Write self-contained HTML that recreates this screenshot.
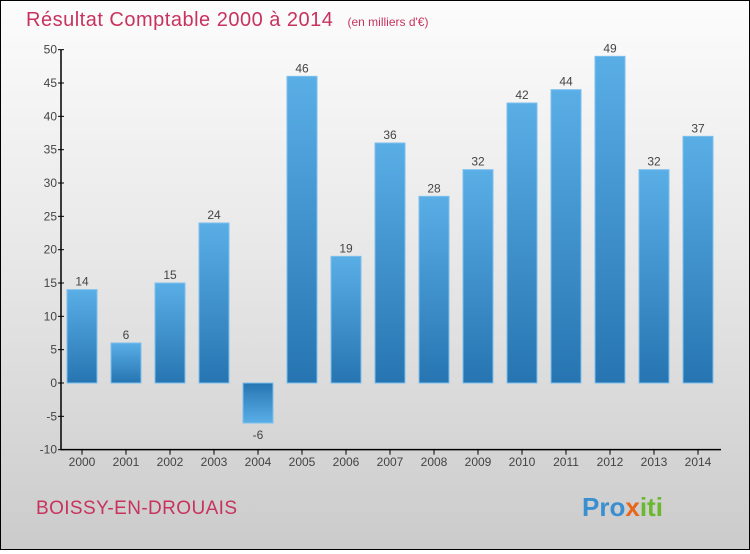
<!DOCTYPE html>
<html><head><meta charset="utf-8"><style>
html,body{margin:0;padding:0}
body{width:750px;height:550px;overflow:hidden;font-family:"Liberation Sans",sans-serif}
#wrap{position:relative;width:748px;height:548px;border:1px solid #000;background:linear-gradient(#fcfcfc,#e6e6e6 50%,#cbcbcb)}
</style></head><body>
<div id="wrap">
<svg id="svg" width="748" height="548" viewBox="1 1 748 548">
<defs>
<linearGradient id="gp" x1="0" y1="0" x2="0" y2="1"><stop offset="0" stop-color="#5aaee6"/><stop offset="1" stop-color="#2675b2"/></linearGradient>
<linearGradient id="gn" x1="0" y1="0" x2="0" y2="1"><stop offset="0" stop-color="#2675b2"/><stop offset="1" stop-color="#5aaee6"/></linearGradient>
</defs>
<text x="26" y="26" font-size="20" letter-spacing="0.5" fill="#c8325e">Résultat Comptable 2000 à 2014 <tspan font-size="12" dx="8" letter-spacing="0">(en milliers d'€)</tspan></text>
<text x="36" y="514" font-size="19" letter-spacing="0.4" fill="#c8325e">BOISSY-EN-DROUAIS</text>
<text x="582" y="516" font-size="26" font-weight="bold" fill="#3a8fd0"><tspan fill="#3a8fd0">Pro</tspan><tspan fill="#e8661c">x</tspan><tspan fill="#6ab82e">iti</tspan></text>
<g id="g"></g>
</svg>
</div>
<script>
const categories=["2000","2001","2002","2003","2004","2005","2006","2007","2008","2009","2010","2011","2012","2013","2014"];
const values=[14,6,15,24,-6,46,19,36,28,32,42,44,49,32,37];
const yTicks=[-10,-5,0,5,10,15,20,25,30,35,40,45,50];
const ns="http://www.w3.org/2000/svg";
const g=document.getElementById('g');
const y=v=>383-(v)*400/60;
const x=i=>60+44*i+22;
function mk(t,a){const e=document.createElementNS(ns,t);for(const k in a)e.setAttribute(k,a[k]);g.appendChild(e);return e;}
let ax=mk('line',{x1:61,y1:y(50),x2:61,y2:y(-10)+0.5,stroke:'#000','stroke-width':1.5});


let bx=mk('line',{x1:61,y1:y(-10),x2:721,y2:y(-10),stroke:'#000','stroke-width':1.5});


yTicks.forEach(t=>{
 const l=mk('line',{x1:58,x2:64,y1:y(t),y2:y(t),stroke:'#000'});
 
 
 const tx=mk('text',{x:57,y:y(t)+4,'font-size':12,fill:'#444','text-anchor':'end'});
 tx.textContent=t;
 
 
});
categories.forEach((c,i)=>{
 const v=values[i];
 const top=Math.min(y(v),y(0)),h=Math.abs(y(v)-y(0));
 const r=mk('rect',{x:x(i)-15,y:top,width:30,height:h,fill:v>=0?'url(#gp)':'url(#gn)',stroke:'#7cc0ee','stroke-width':1});
 
 
 const lb=mk('text',{x:x(i),y:v>=0?y(v)-4:y(v)+16,'font-size':12,fill:'#444','text-anchor':'middle'});
 lb.textContent=v;
 
 
 const tk=mk('line',{x1:x(i),x2:x(i),y1:y(-10),y2:y(-10)+5,stroke:'#000'});
 
 
 const xl=mk('text',{x:x(i),y:466,'font-size':12,fill:'#444','text-anchor':'middle'});
 xl.textContent=c;
 
 
});
</script>
</body></html>
